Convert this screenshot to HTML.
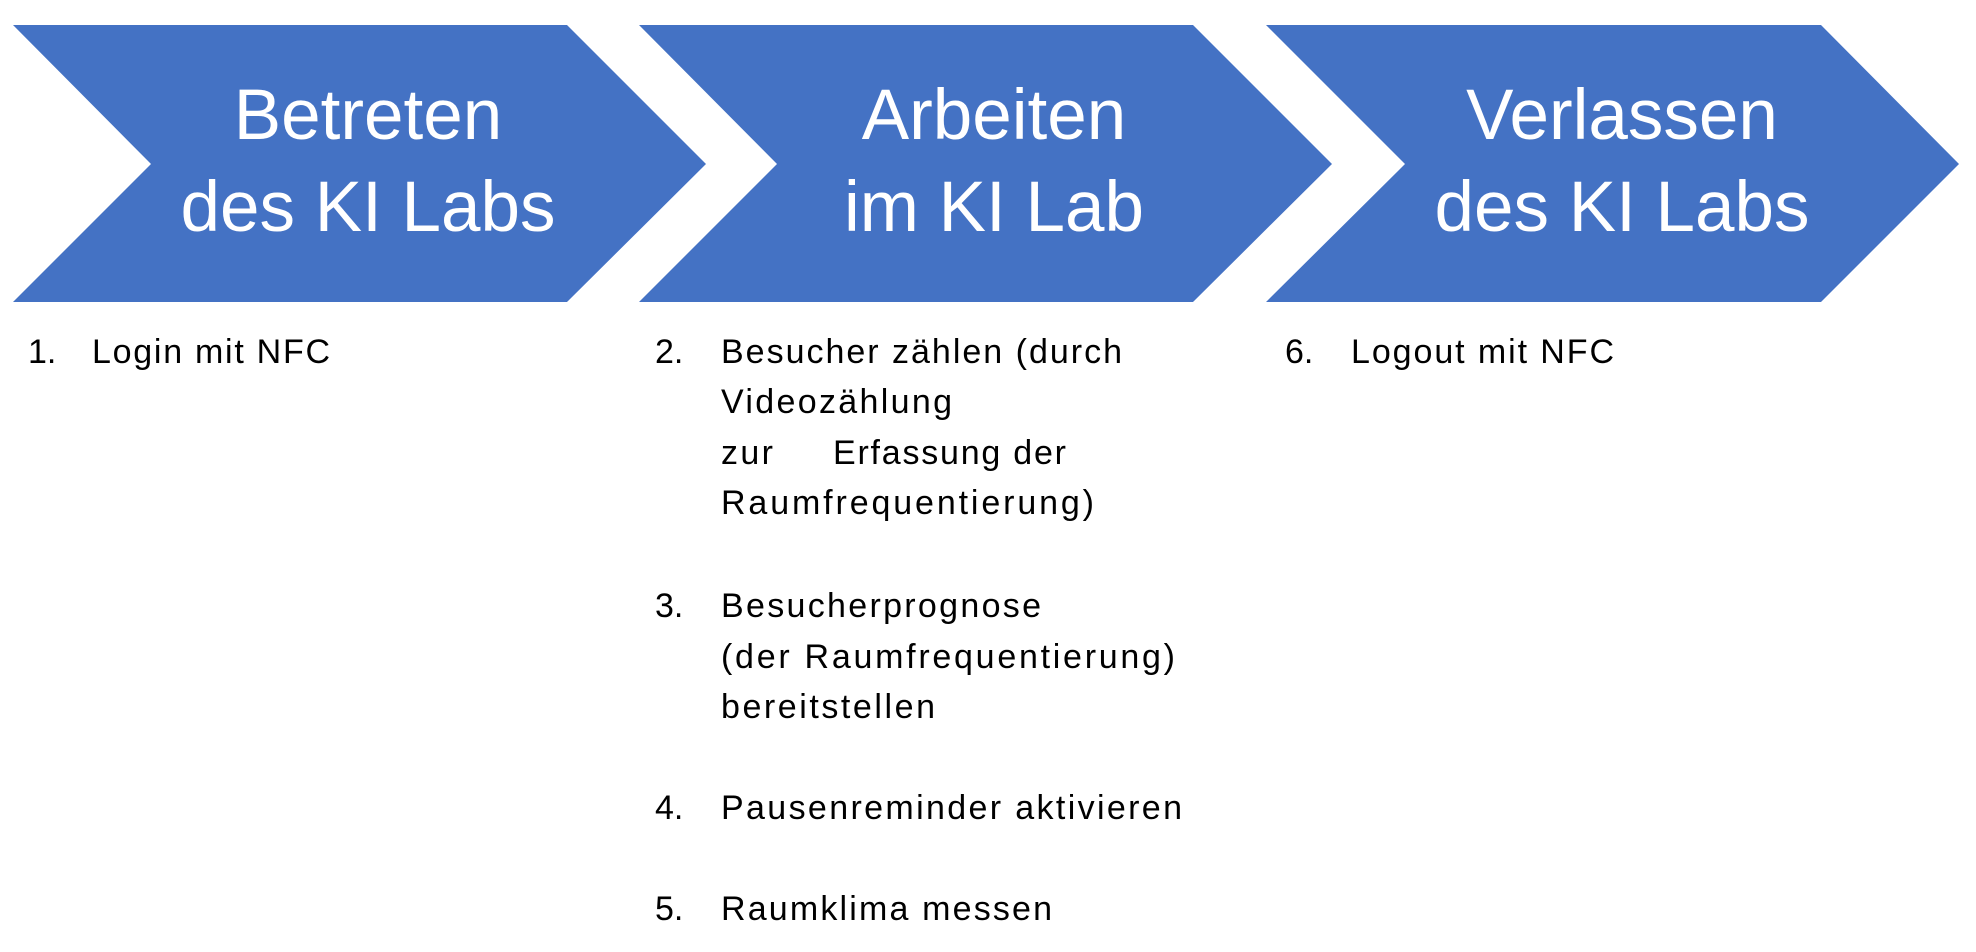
<!DOCTYPE html>
<html><head><meta charset="utf-8"><style>
html,body{margin:0;padding:0;background:#fff;width:1976px;height:952px;overflow:hidden}
svg text{font-family:"Liberation Sans",sans-serif}
</style></head><body>
<svg width="1976" height="952" viewBox="0 0 1976 952" xmlns="http://www.w3.org/2000/svg">
<g fill="#4472C4">
<polygon points="13,25 567,25 706,164 567,302 13,302 151,164"/>
<polygon points="639,25 1193,25 1332,164 1193,302 639,302 777,164"/>
<polygon points="1266,25 1821,25 1959,164 1821,302 1266,302 1405,164"/>
</g>
<g fill="#fff" font-size="71" text-anchor="middle">
<text x="368" y="139">Betreten</text>
<text x="368" y="231">des KI Labs</text>
<text x="994" y="139">Arbeiten</text>
<text x="994" y="231">im KI Lab</text>
<text x="1622" y="139">Verlassen</text>
<text x="1622" y="231">des KI Labs</text>
</g>
<g fill="#000" font-size="34" lengthAdjust="spacing">
<text x="28" y="363">1.</text><text x="92" y="363" textLength="238">Login mit NFC</text>
<text x="655" y="363">2.</text>
<text x="721" y="363" textLength="401">Besucher zählen (durch</text>
<text x="721" y="413" textLength="231">Videozählung</text>
<text x="721" y="464" textLength="52">zur</text><text x="833" y="464" textLength="233">Erfassung der</text>
<text x="721" y="514" textLength="373">Raumfrequentierung)</text>
<text x="655" y="617">3.</text>
<text x="721" y="617" textLength="320">Besucherprognose</text>
<text x="721" y="668" textLength="454">(der Raumfrequentierung)</text>
<text x="721" y="718" textLength="214">bereitstellen</text>
<text x="655" y="819">4.</text><text x="721" y="819" textLength="461">Pausenreminder aktivieren</text>
<text x="655" y="920">5.</text><text x="721" y="920" textLength="331">Raumklima messen</text>
<text x="1285" y="363">6.</text><text x="1351" y="363" textLength="263">Logout mit NFC</text>
</g>
</svg>
</body></html>
